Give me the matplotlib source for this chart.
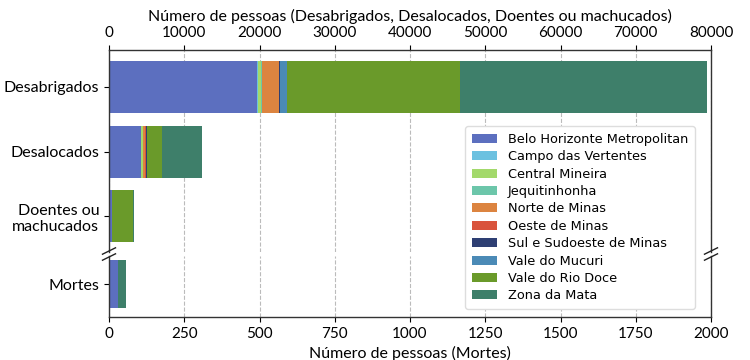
import matplotlib
matplotlib.use("Agg")
import matplotlib.pyplot as plt
import numpy as np

categories_top = ["Desabrigados", "Desalocados", "Doentes ou\nmachucados"]
category_bottom = ["Mortes"]
regions = ["Belo Horizonte Metropolitan", "Campo das Vertentes", "Central Mineira",
           "Jequitinhonha", "Norte de Minas", "Oeste de Minas",
           "Sul e Sudoeste de Minas", "Vale do Mucuri", "Vale do Rio Doce", "Zona da Mata"]
colors = ["#5c6fbf", "#6cc1e0", "#a3d96b", "#6cc6aa", "#dc8440", "#d9533c",
          "#2e3f73", "#4b8ab6", "#6a9a2a", "#3e7f6a"]

desabrigados = [19650, 100, 400, 150, 2300, 50, 50, 900, 23000, 32900]
desalocados = [4250, 50, 200, 50, 250, 170, 30, 100, 2000, 5280]
doentes = [350, 10, 10, 10, 10, 10, 10, 10, 2790, 170]
mortes = [30, 0, 0, 0, 0, 0, 0, 0, 1, 27]

top_vals = np.array([desabrigados, desalocados, doentes], dtype=float)  # (3, 10)
bot_vals = np.array([mortes], dtype=float)

label_font = ["Lato", "DejaVu Sans"]

fig = plt.figure(figsize=(7.5, 3.6), dpi=100)
L, R = 109/750, 711/750
ax_top = fig.add_axes([L, 1-252/360, R - L, 202/360])
ax_bot = fig.add_axes([L, 1-317/360, R - L, 61/360])

y_top = np.arange(len(categories_top))
left = np.zeros(len(categories_top))
handles = []
for i, reg in enumerate(regions):
    h = ax_top.barh(y_top, top_vals[:, i], left=left, height=0.8, color=colors[i], label=reg)
    left += top_vals[:, i]
    handles.append(h)

left_b = np.zeros(1)
for i, reg in enumerate(regions):
    ax_bot.barh([0], bot_vals[:, i], left=left_b, height=0.8, color=colors[i])
    left_b += bot_vals[:, i]

ax_top.set_xlim(0, 80000)
ax_top.set_ylim(2.55, -0.57)
ax_bot.set_xlim(0, 2000)
ax_bot.set_ylim(-0.55, 0.47)

ax_top.xaxis.tick_top()
ax_top.xaxis.set_label_position("top")
ax_top.set_xticks(np.arange(0, 80001, 10000))
ax_top.set_yticks(y_top)
ax_top.set_yticklabels(categories_top, family=label_font, fontsize=11.5)
ax_top.spines["bottom"].set_visible(False)
ax_top.set_xlabel("Número de pessoas (Desabrigados, Desalocados, Doentes ou machucados)",
                  family=label_font, fontsize=11.5, labelpad=4)

ax_bot.set_xticks(np.arange(0, 2001, 250))
ax_bot.set_yticks([0])
ax_bot.set_yticklabels(category_bottom, family=label_font, fontsize=11.5)
ax_bot.spines["top"].set_visible(False)
ax_bot.set_xlabel("Número de pessoas (Mortes)", family=label_font, fontsize=11.5, labelpad=4)

for ax in (ax_top, ax_bot):
    ax.set_axisbelow(True)
    ax.grid(axis="x", linestyle="--", color="#bbbbbb", linewidth=0.8)
    for lab in ax.get_xticklabels():
        lab.set_family(label_font)
        lab.set_fontsize(11)
    ax.tick_params(axis="y", length=3.5)
    ax.tick_params(axis="x", length=3.5)
    for s in ax.spines.values():
        s.set_linewidth(1.0)
        s.set_color("#333333")
ax_top.tick_params(axis="x", top=True, bottom=False)
ax_bot.tick_params(axis="x", top=False, bottom=True)
ax_top.tick_params(axis="y", right=False)
ax_bot.tick_params(axis="y", right=False)

leg = fig.legend(handles, regions, loc="upper right", bbox_to_anchor=(701/750, 1-120/360),
                 frameon=True, framealpha=1.0, edgecolor="#dddddd",
                 handlelength=2.0, handleheight=0.7, labelspacing=0.34, borderpad=0.5,
                 prop={"family": "DejaVu Sans", "size": 9.3})

# break marks
kw = dict(transform=fig.transFigure, color="#222222", lw=1.0, clip_on=False, zorder=10)
dx, dy = 6.5/750, 3.2/360
for xf in (L, R):
    for yc in (1-251/360, 1-257/360):
        fig.add_artist(plt.Line2D([xf - dx, xf + dx], [yc - dy, yc + dy], **kw))

fig.savefig("out.png", dpi=100)
